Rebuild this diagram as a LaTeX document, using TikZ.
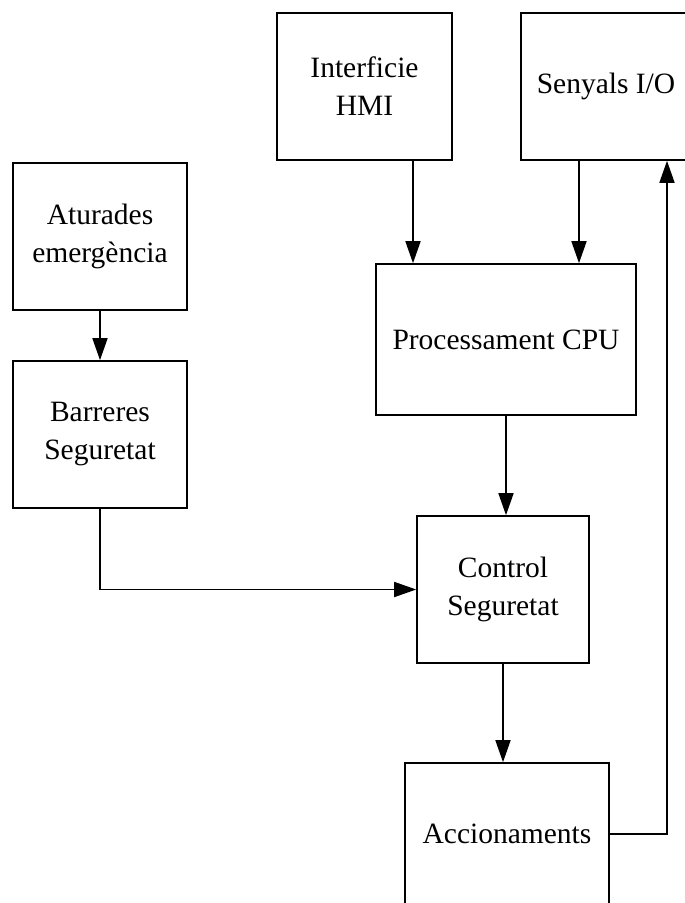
\documentclass[tikz,border=0pt]{standalone}
\usepackage{fontspec}
\setmainfont{Liberation Serif}
\usetikzlibrary{arrows.meta}
\begin{document}
\begin{tikzpicture}[x=1pt,y=-1pt,
  box/.style={draw, line width=1.6pt, align=center, inner sep=0pt,
    font=\fontsize{29.5}{38}\selectfont},
  arr/.style={line width=1.6pt, -{Triangle[length=22pt,width=15pt]}}]
\useasboundingbox (0,0) rectangle (685,903);
\clip (0,0) rectangle (685,903);
\node[box, minimum width=175pt, minimum height=147pt] (hmi) at (364.5,86.5) {Interficie\\HMI};
\node[box, minimum width=170pt, minimum height=147pt] (io) at (606,86.5) {\raisebox{-3pt}{Senyals I/O}};
\node[box, minimum width=174pt, minimum height=147pt] (atur) at (100,236.5) {Aturades\\emergència};
\node[box, minimum width=174pt, minimum height=147pt] (barr) at (100,434.5) {Barreres\\Seguretat};
\node[box, minimum width=260pt, minimum height=151pt] (cpu) at (506,339.5) {Processament CPU};
\node[box, minimum width=172pt, minimum height=147pt] (ctrl) at (503,589.5) {Control\\Seguretat};
\node[box, minimum width=204pt, minimum height=142pt] (acc) at (507,834) {Accionaments};
\coordinate (xh) at (413,0);
\coordinate (xi) at (579,0);
\coordinate (xf) at (667,0);
\draw[arr] (atur.south) -- (barr.north);
\draw[arr] (hmi.south -| xh) -- (cpu.north -| xh);
\draw[arr] (io.south -| xi) -- (cpu.north -| xi);
\draw[arr] (cpu.south) -- (cpu.south |- ctrl.north);
\draw[arr] (ctrl.south) -- (ctrl.south |- acc.north);
\draw[arr] (barr.south) |- (ctrl.west);
\draw[arr] (acc.east) -| (io.south -| xf);
\end{tikzpicture}
\end{document}
